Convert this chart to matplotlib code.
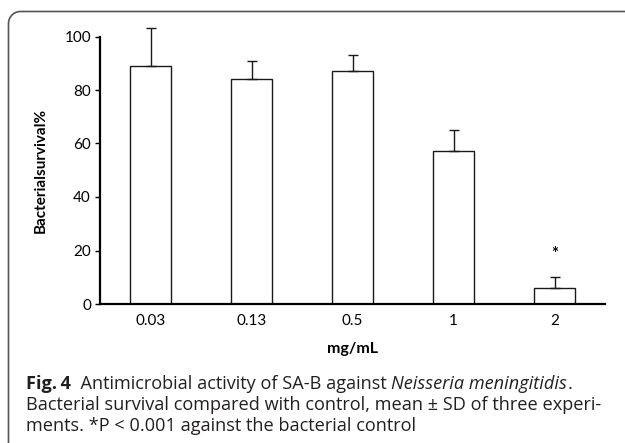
import numpy as np
import matplotlib
matplotlib.use("Agg")
import matplotlib.pyplot as plt
from matplotlib.lines import Line2D

# data
doses = ["0.03", "0.13", "0.5", "1", "2"]
survival = [89.0, 84.1, 87.0, 57.2, 6.1]
sd = [14.2, 6.9, 6.2, 7.8, 4.1]
signif = ["", "", "", "", "*"]

W, H = 625, 443
fig = plt.figure(figsize=(W / 100, H / 100), dpi=100)
plt.rcParams['font.family'] = ['Lato', 'DejaVu Sans']

ax = fig.add_axes([100 / W, 1 - 304 / H, 505 / W, 267.5 / H])
x = np.arange(len(doses))
ax.bar(x, survival, width=0.4, color="white", edgecolor="#1a1a1a", linewidth=1.0, zorder=2)
ax.errorbar(x, survival, yerr=[np.zeros(len(sd)), sd], fmt="none", ecolor="#1a1a1a",
            elinewidth=1.0, capsize=3.5, capthick=1.0, clip_on=False, zorder=3)
for xi, v, e, s in zip(x, survival, sd, signif):
    if s:
        ax.text(xi, v + e + 8.5, s, ha="center", va="center", fontsize=12, fontweight="bold")

ax.set_xlim(-0.5, len(doses) - 0.5)
ax.set_ylim(0, 100)
ax.set_yticks(range(0, 101, 20))
ax.set_xticks(x)
ax.set_xticklabels(doses)
ax.tick_params(axis="x", length=0, pad=7, labelsize=11)
ax.tick_params(axis="y", length=3.5, width=1.0, pad=3, labelsize=11)
for side in ["top", "right"]:
    ax.spines[side].set_visible(False)
for side in ["left", "bottom"]:
    ax.spines[side].set_linewidth(1.6)
ax.set_xlabel("mg/mL", fontsize=11.5, fontweight="bold", labelpad=10)
ax.set_ylabel("Bacterialsurvival%", fontsize=11, fontweight="bold", labelpad=12)

# rounded frame around the figure panel (open at right and bottom)
r = 12
t = np.linspace(np.pi, np.pi / 2, 20)
fx = np.concatenate([[8.5], 8.5 + r + r * np.cos(t), [W + 5]])
fy = np.concatenate([[H + 5], 11.5 + r - r * np.sin(t), [11.5]])
fig.add_artist(Line2D(fx / W, 1 - fy / H, transform=fig.transFigure, color="#555555", linewidth=1.2))

# caption
cap_color = "#231f20"
cap_font = ['Open Sans', 'DejaVu Sans']
cap_size = 13.1
lines = [
    [("Fig.\u20094", "bold", "normal"), ("  Antimicrobial activity of SA-B against ", "normal", "normal"),
     ("Neisseria meningitidis", "normal", "italic"), (".", "normal", "normal")],
    [("Bacterial survival compared with control, mean \u00b1 SD of three experi-", "normal", "normal")],
    [("ments. *P < 0.001 against the bacterial control", "normal", "normal")],
]
line_y = [384, 405, 426]
renderer = fig.canvas.get_renderer()
for parts, yy in zip(lines, line_y):
    xx = 26
    for txt, weight, style in parts:
        tt = fig.text(xx / W, 1 - yy / H, txt, fontsize=cap_size, fontweight=weight, fontstyle=style,
                      family=cap_font, color=cap_color, va="center", ha="left")
        bb = tt.get_window_extent(renderer=renderer)
        xx += bb.width

fig.savefig("out.png", dpi=100)
